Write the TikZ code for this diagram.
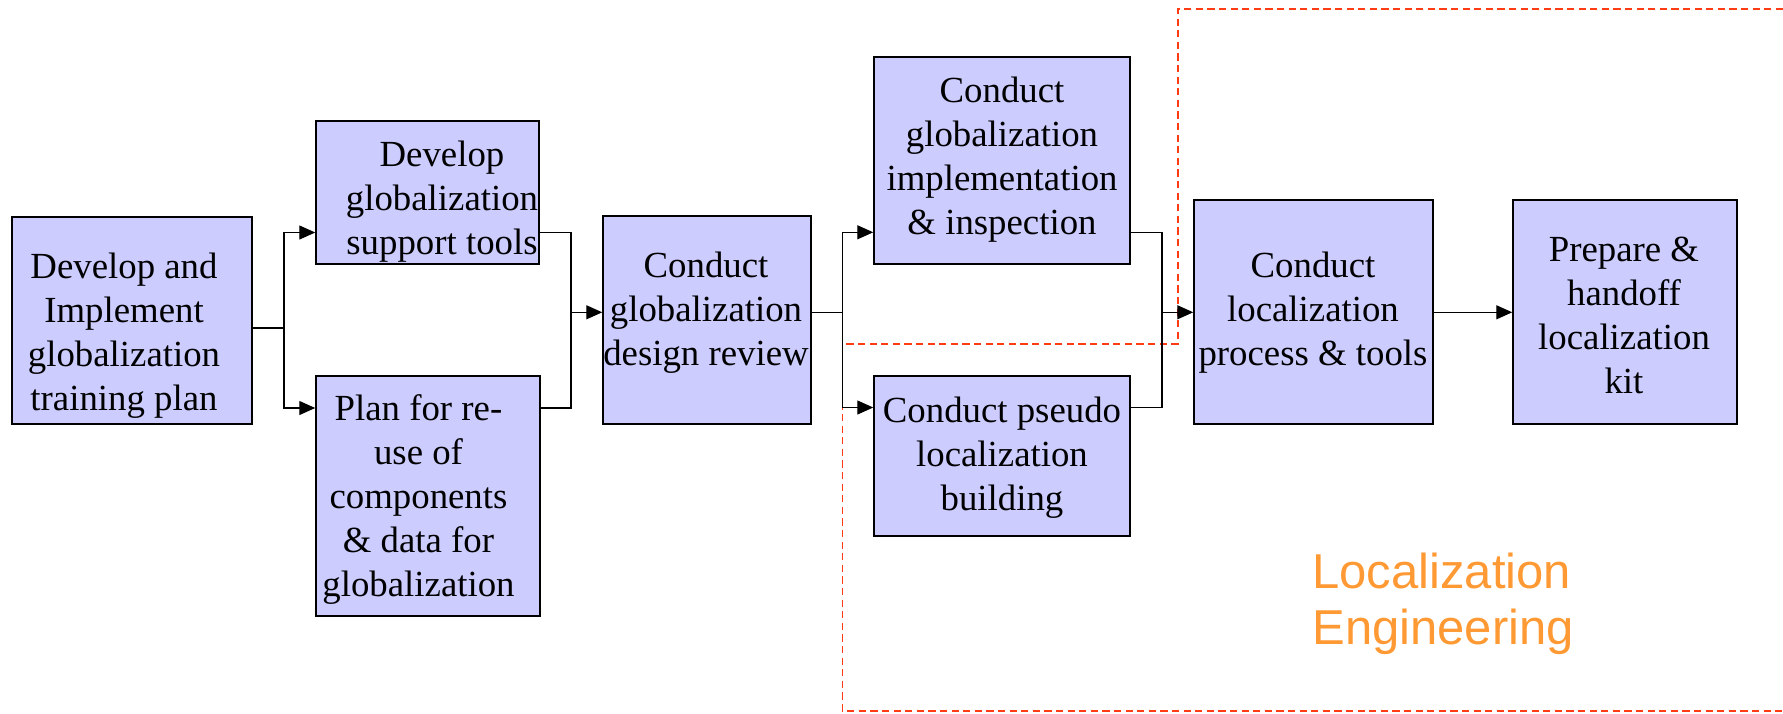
\documentclass[tikz,border=0pt]{standalone}
\usepackage{fontspec}
\setmainfont{Liberation Serif}
\newfontfamily\sansf{Liberation Sans}
\usetikzlibrary{arrows.meta}
\definecolor{boxfill}{RGB}{204,204,255}
\definecolor{locred}{RGB}{255,60,20}
\definecolor{locorange}{RGB}{255,153,51}
\tikzset{
  stepbox/.style={draw=black, line width=0.75pt, fill=boxfill, inner sep=0pt, rectangle},
  boxtext/.style={inner sep=0pt, align=center, anchor=north,
    font=\fontsize{18.4pt}{22pt}\selectfont},
  conn/.style={draw=black, line width=0.65pt},
  arr/.style={conn, -{Triangle[length=8pt,width=7pt]}},
  locdash/.style={draw=locred, line width=0.8pt, dash pattern=on 3.6pt off 2.2pt},
  loctext/.style={inner sep=0pt, align=left, anchor=north west, text=locorange,
    font=\sansf\fontsize{24.5pt}{28.35pt}\selectfont}
}
\begin{document}
\begin{tikzpicture}[x=0.5pt, y=-0.5pt]
\useasboundingbox (0,0) rectangle (1783,713);

% boxes
\node[stepbox, minimum width=120pt,   minimum height=103.5pt] (A) at (132,320.5) {};
\node[stepbox, minimum width=111.5pt, minimum height=71.5pt]  (B) at (427.5,192.5) {};
\node[stepbox, minimum width=112pt,   minimum height=120pt]   (C) at (428,496) {};
\node[stepbox, minimum width=104pt,   minimum height=104pt]   (D) at (707,320) {};
\node[stepbox, minimum width=128pt,   minimum height=103.5pt] (E) at (1002,160.5) {};
\node[stepbox, minimum width=128pt,   minimum height=80pt]    (F) at (1002,456) {};
\node[stepbox, minimum width=119.5pt, minimum height=112pt]   (G) at (1313.5,312) {};
\node[stepbox, minimum width=112pt,   minimum height=112pt]   (H) at (1625,312) {};

% box texts
\node[boxtext] (At) at (124,252.6) {Develop and\\Implement\\globalization\\training plan};
\node[boxtext] (Bt) at (442,140.9) {Develop\\globalization\\support tools};
\node[boxtext] (Ct) at (418.5,393.9) {Plan for re-\\use of\\components\\\& data for\\globalization};
\node[boxtext] (Dt) at (706,251.9) {Conduct\\globalization\\design review};
\node[boxtext] (Et) at (1002,76.9) {Conduct\\globalization\\implementation\\\& inspection};
\node[boxtext] (Ft) at (1002,396.6) {Conduct pseudo\\localization\\building};
\node[boxtext] (Gt) at (1313,251.9) {Conduct\\localization\\process \& tools};
\node[boxtext] (Ht) at (1624,236.6) {Prepare \&\\handoff\\localization\\kit};

% localization engineering region
\draw[locdash] (1783,9) -- (1177.7,9) -- (1177.7,344) -- (842.3,344) -- (842.3,710.7) -- (1783,710.7);
\node[loctext] (Lt) at (1312,552.2) {Localization\\Engineering};

% connector junctions
\coordinate (jA)  at (284,328);
\coordinate (jAB) at (284,232.5);
\coordinate (jAC) at (284,408);
\coordinate (jD)  at (571,312.3);
\coordinate (jE)  at (842.3,312.3);
\coordinate (jDE) at (842.3,232.3);
\coordinate (jDF) at (842.3,407.5);
\coordinate (jG)  at (1162,312.3);

% connectors
\draw[conn] (A.east |- jA) -- (jA);
\draw[arr] (jA) -- (jAB) -- (B.west |- jAB);
\draw[arr] (jA) -- (jAC) -- (C.west |- jAC);
\draw[conn] (B.east |- jAB) -| (jD);
\draw[conn] (C.east |- jAC) -| (jD);
\draw[arr] (jD) -- (D.west |- jD);
\draw[conn] (D.east |- jE) -- (jE);
\draw[arr] (jE) -- (jDE) -- (E.west |- jDE);
\draw[arr] (jE) -- (jDF) -- (F.west |- jDF);
\draw[conn] (E.east |- jDE) -| (jG);
\draw[conn] (F.east |- jDF) -| (jG);
\draw[arr] (jG) -- (G.west |- jG);
\draw[arr] (G.east |- jG) -- (H.west |- jG);
\end{tikzpicture}
\end{document}
